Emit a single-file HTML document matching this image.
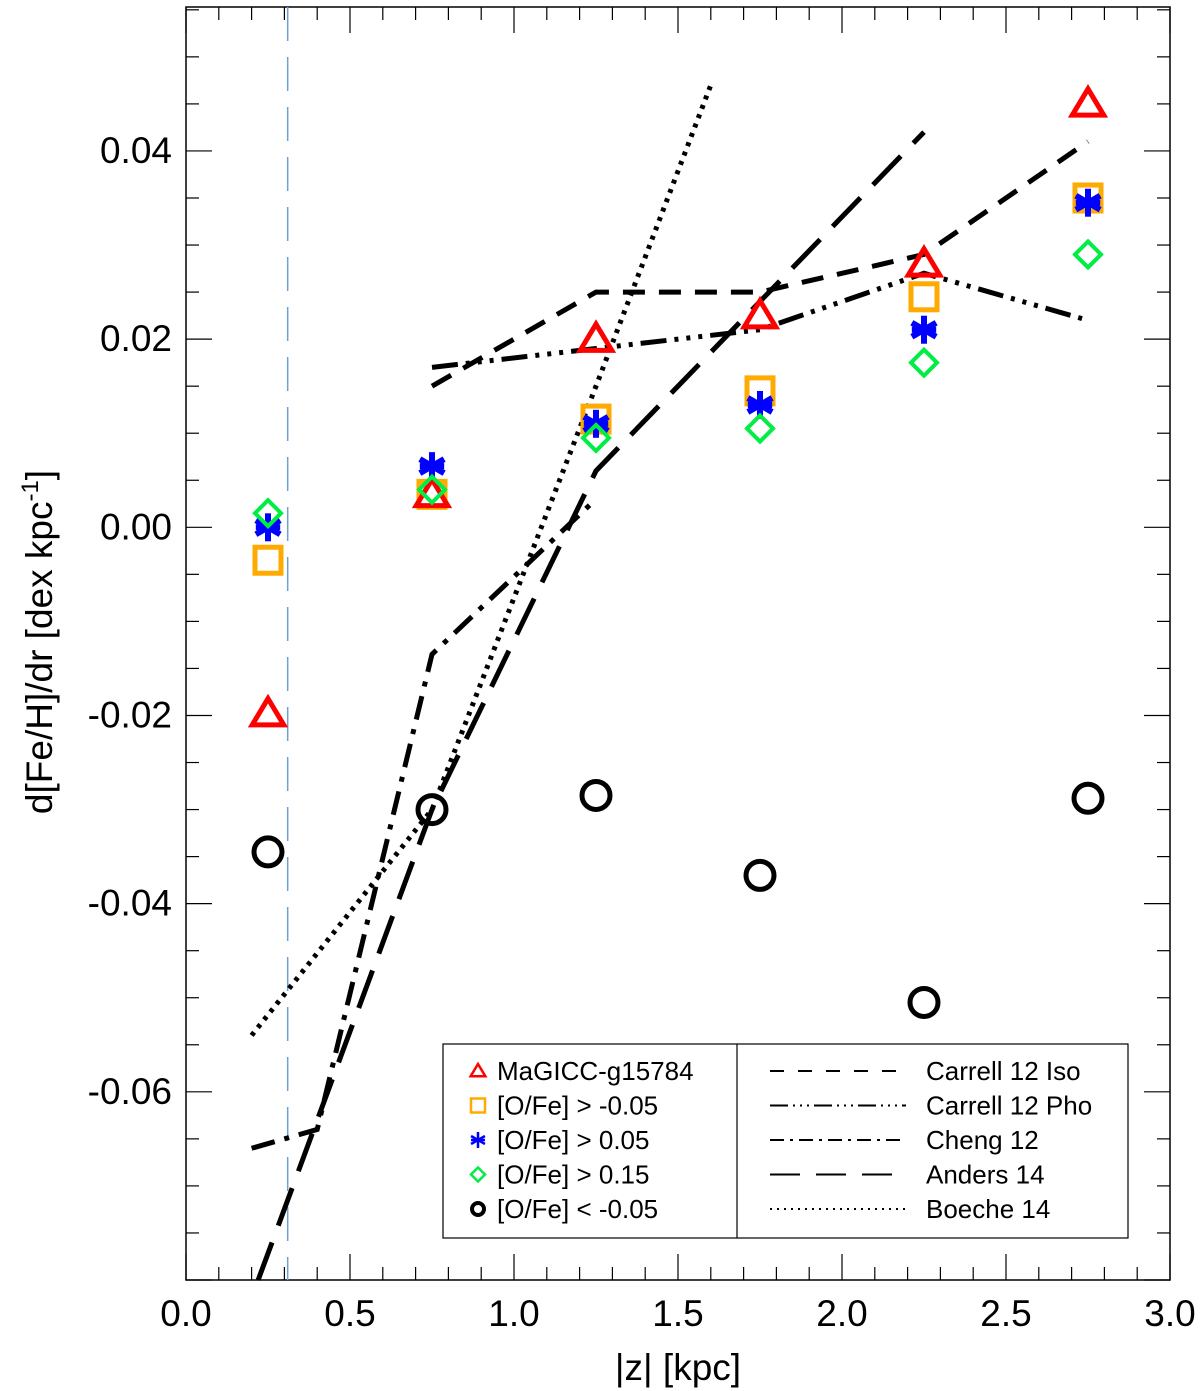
<!DOCTYPE html>
<html><head><meta charset="utf-8"><style>
body{margin:0;background:#fff}
svg{display:block;font-family:"Liberation Sans",sans-serif}
</style></head><body>
<svg id="c" width="1200" height="1391" viewBox="0 0 1200 1391"></svg>
<script>
const xs=[0.25,0.75,1.25,1.75,2.25,2.75];
const triVals=[-0.0198,0.0035,0.0200,0.0225,0.0280,0.0450];
const sqVals=[-0.0035,0.0035,0.0115,0.0145,0.0245,0.0350];
const astVals=[0.0000,0.0065,0.0110,0.0130,0.0210,0.0345];
const diaVals=[0.0015,0.0040,0.0095,0.0105,0.0175,0.0290];
const circVals=[-0.0345,-0.0300,-0.0285,-0.0370,-0.0505,-0.0288];
const isoX=[0.75,1.25,1.75,2.25,2.75], isoY=[0.015,0.025,0.025,0.029,0.041];
const phoX=[0.75,1.25,1.75,2.25,2.75], phoY=[0.017,0.019,0.021,0.027,0.022];
const chengX=[0.2,0.4,0.75,1.25], chengY=[-0.066,-0.064,-0.0135,0.003];
const andersX=[0.22,0.75,1.25,1.75,2.25], andersY=[-0.08,-0.03,0.006,0.024,0.042];
const boecheX=[0.2,0.75,1.25,1.6], boecheY=[-0.054,-0.03,0.015,0.047];
const xTicks=[0,0.5,1,1.5,2,2.5,3];
const xTickLabels=["0.0","0.5","1.0","1.5","2.0","2.5","3.0"];
const yTicks=[-0.06,-0.04,-0.02,0,0.02,0.04];
const yTickLabels=["-0.06","-0.04","-0.02","0.00","0.02","0.04"];

const L=186,R=1170,T=7,B=1280,xmin=0,xmax=3,ymin=-0.08,ymax=0.0553;
const X=v=>L+(v-xmin)/(xmax-xmin)*(R-L);
const Y=v=>B-(v-ymin)/(ymax-ymin)*(B-T);
const svg=document.getElementById('c');
const NS='http://www.w3.org/2000/svg';
function mk(tag,attrs,parent){const e=document.createElementNS(NS,tag);for(const k in attrs)e.setAttribute(k,attrs[k]);(parent||svg).appendChild(e);return e;}

let f=mk('rect',{x:L,y:T,width:R-L,height:B-T,fill:'none',stroke:'#000','stroke-width':1.5});


for(let i=0;i<=30;i++){const v=i/10,x=X(v),len=(i%5==0)?26:13;
 mk('line',{x1:x,y1:B,x2:x,y2:B-len,stroke:'#000','stroke-width':1.2});
 mk('line',{x1:x,y1:T,x2:x,y2:T+len,stroke:'#000','stroke-width':1.2});}
for(let i=0;i<=27;i++){const v=-0.08+i*0.005;if(v>ymax)break;const y=Y(v),len=(i%4==0)?26:13;
 mk('line',{x1:L,y1:y,x2:L+len,y2:y,stroke:'#000','stroke-width':1.2});
 mk('line',{x1:R,y1:y,x2:R-len,y2:y,stroke:'#000','stroke-width':1.2});}
xTicks.forEach((v,i)=>{const t=mk('text',{x:X(v),y:1326,'font-size':37,'text-anchor':'middle'});t.textContent=xTickLabels[i];
 
 });
yTicks.forEach((v,i)=>{const t=mk('text',{x:172,y:Y(v)+12,'font-size':37,'text-anchor':'end'});t.textContent=yTickLabels[i];
 
 });
let xl=mk('text',{x:678,y:1380,'font-size':37,'text-anchor':'middle'});xl.textContent='|z| [kpc]';


let yl=mk('text',{x:0,y:0,'font-size':37,'text-anchor':'middle',transform:'translate(52,642) rotate(-90)'});
yl.innerHTML='d[Fe/H]/dr [dex kpc<tspan dy="-14" font-size="24">-1</tspan><tspan dy="14">]</tspan>';



let vl=mk('line',{x1:X(0.31),y1:T,x2:X(0.31),y2:B,stroke:'#6fa0d0','stroke-width':1.5,'stroke-dasharray':'34 16'});



function line(xa,ya,dash,name){const p=xa.map((v,i)=>X(v)+','+Y(ya[i])).join(' ');
 const e=mk('polyline',{points:p,fill:'none',stroke:'#000','stroke-width':5,'stroke-dasharray':dash});
 
 }
line(isoX,isoY,'22 14','carrell-iso-line');
line(phoX,phoY,'26 8 4 8 4 8 4 8','carrell-pho-line');
line(chengX,chengY,'24 10 5 10','cheng-line');
line(andersX,andersY,'40 18','anders-line');
line(boecheX,boecheY,'4 6','boeche-line');

function tri(g,x,y,s,c,w){mk('polygon',{points:`${x},${y-s} ${x-s*1.05},${y+s*0.75} ${x+s*1.05},${y+s*0.75}`,fill:'none',stroke:c,'stroke-width':w},g);}
function sq(g,x,y,s,c,w){mk('rect',{x:x-s,y:y-s,width:2*s,height:2*s,fill:'none',stroke:c,'stroke-width':w},g);}
function ast(g,x,y,s,c,w){for(const a of [0,60,120]){const r=a*Math.PI/180;mk('line',{x1:x-s*Math.sin(r),y1:y-s*Math.cos(r),x2:x+s*Math.sin(r),y2:y+s*Math.cos(r),stroke:c,'stroke-width':w},g);}
 mk('line',{x1:x-s*0.87,y1:y,x2:x+s*0.87,y2:y,stroke:c,'stroke-width':w},g);}
function dia(g,x,y,s,c,w){mk('polygon',{points:`${x},${y-s} ${x+s},${y} ${x},${y+s} ${x-s},${y}`,fill:'none',stroke:c,'stroke-width':w},g);}
function circ(g,x,y,s,c,w){mk('circle',{cx:x,cy:y,r:s,fill:'none',stroke:c,'stroke-width':w},g);}
function series(vals,fn,s,c,w,name){const g=mk('g',{});
 
 
 vals.forEach((v,i)=>fn(g,X(xs[i]),Y(v),s,c,w));}
series(circVals,circ,14,'#000',5,'series-ofe-lt-minus005');
series(sqVals,sq,13,'#ffaa00',5,'series-ofe-gt-minus005');
series(triVals,tri,15,'#ff0000',5,'series-magicc');
series(astVals,ast,14,'#0000ff',6,'series-ofe-gt-005');
series(diaVals,dia,13,'#00ee44',4,'series-ofe-gt-015');

const lg=mk('g',{});


mk('rect',{x:443,y:1044,width:685,height:194,fill:'#fff',stroke:'#000','stroke-width':1.2},lg);
mk('line',{x1:737,y1:1044,x2:737,y2:1238,stroke:'#000','stroke-width':1.2},lg);
const leftLab=['MaGICC-g15784','[O/Fe] > -0.05','[O/Fe] > 0.05','[O/Fe] > 0.15','[O/Fe] < -0.05'];
const rightLab=['Carrell 12 Iso','Carrell 12 Pho','Cheng 12','Anders 14','Boeche 14'];
const fns=[[tri,7,'#ff0000',2.5],[sq,7,'#ffaa00',2.5],[ast,8,'#0000ff',2.5],[dia,7,'#00ee44',2.5],[circ,6,'#000',4]];
const dashes=['14 14','18 5 2 5 2 5 2 5','14 6 3 6','30 16','2 5'];
for(let i=0;i<5;i++){const y=1071+i*34.5;
 fns[i][0](lg,478,y,fns[i][1],fns[i][2],fns[i][3]);
 let t=mk('text',{x:497,y:y+9,'font-size':26},lg);t.textContent=leftLab[i];
 
 
 mk('line',{x1:770,y1:y,x2:906,y2:y,stroke:'#000','stroke-width':2,'stroke-dasharray':dashes[i]},lg);
 let t2=mk('text',{x:926,y:y+9,'font-size':26},lg);t2.textContent=rightLab[i];
 
 }
</script>
</body></html>
